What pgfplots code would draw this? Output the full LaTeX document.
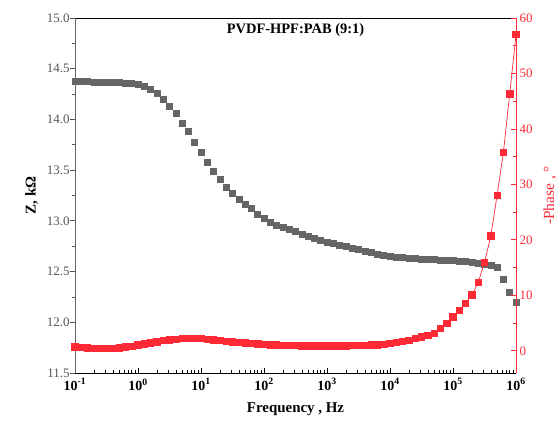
\documentclass[border=0pt]{standalone}
\usepackage{fontspec}
\setmainfont{Liberation Serif}
\usepackage{pgfplots}
\usepackage{pgfplotstable}
\pgfplotsset{compat=1.18}
\definecolor{zgray}{HTML}{666666}
\definecolor{tickgray}{HTML}{555555}
\definecolor{phred}{HTML}{FF2A36}

% f (Hz), Z (kOhm), -phase (deg)
\pgfplotstableread{
f Z P
1.00e-1 14.38 0.70
1.26e-1 14.38 0.60
1.58e-1 14.375 0.50
2.00e-1 14.37 0.45
2.51e-1 14.37 0.40
3.16e-1 14.37 0.40
3.98e-1 14.365 0.45
5.01e-1 14.365 0.55
6.31e-1 14.36 0.70
7.94e-1 14.355 0.85
1.00e0 14.35 1.05
1.26e0 14.33 1.25
1.58e0 14.30 1.45
2.00e0 14.26 1.65
2.51e0 14.20 1.85
3.16e0 14.13 2.00
3.98e0 14.06 2.10
5.01e0 13.96 2.20
6.31e0 13.88 2.25
7.94e0 13.78 2.25
1.00e1 13.68 2.20
1.26e1 13.58 2.10
1.58e1 13.49 2.00
2.00e1 13.41 1.90
2.51e1 13.33 1.75
3.16e1 13.27 1.65
3.98e1 13.21 1.55
5.01e1 13.16 1.45
6.31e1 13.12 1.35
7.94e1 13.07 1.25
1.00e2 13.03 1.20
1.26e2 12.99 1.10
1.58e2 12.96 1.05
2.00e2 12.94 1.00
2.51e2 12.92 0.95
3.16e2 12.90 0.95
3.98e2 12.87 0.90
5.01e2 12.85 0.90
6.31e2 12.83 0.90
7.94e2 12.81 0.90
1.00e3 12.79 0.90
1.26e3 12.78 0.90
1.58e3 12.76 0.90
2.00e3 12.75 0.90
2.51e3 12.73 0.95
3.16e3 12.72 1.00
3.98e3 12.70 1.00
5.01e3 12.69 1.05
6.31e3 12.67 1.10
7.94e3 12.66 1.20
1.00e4 12.65 1.30
1.26e4 12.645 1.50
1.58e4 12.64 1.70
2.00e4 12.635 1.90
2.51e4 12.63 2.20
3.16e4 12.625 2.50
3.98e4 12.62 2.80
5.01e4 12.62 3.20
6.31e4 12.615 4.00
7.94e4 12.61 5.00
1.00e5 12.61 6.10
1.26e5 12.60 7.30
1.58e5 12.60 8.60
2.00e5 12.59 10.1
2.51e5 12.58 12.3
3.16e5 12.57 15.9
3.98e5 12.56 20.7
5.01e5 12.54 28.0
6.31e5 12.42 35.8
7.94e5 12.30 46.3
1.00e6 12.20 57.0
}\eis

\begin{document}
\begin{tikzpicture}
\pgfplotsset{
  every axis/.append style={
    width=441bp, height=355bp, scale only axis,
    xmode=log, xmin=0.1, xmax=1e6,
  },
}
\begin{axis}[
  name=za,
  ymin=11.5, ymax=15.0,
  ytick={11.5,12.0,...,15.0},
  minor y tick num=1,
  xtick={1e-1,1e0,1e1,1e2,1e3,1e4,1e5,1e6},
  xticklabels={10\textsuperscript{-1},10\textsuperscript{0},10\textsuperscript{1},10\textsuperscript{2},10\textsuperscript{3},10\textsuperscript{4},10\textsuperscript{5},10\textsuperscript{6}},
  xtick pos=bottom, ytick pos=left,
  tick align=inside,
  major tick length=5bp, minor tick length=3bp,
  y tick style={xshift=-5bp, tickgray, line width=0.8pt},
  minor y tick style={xshift=2bp},
  x tick style={black, line width=0.8pt},
  separate axis lines,
  x axis line style={black, line width=1pt},
  y axis line style={zgray, line width=1pt},
  yticklabel style={/pgf/number format/fixed, /pgf/number format/fixed zerofill,
    /pgf/number format/precision=1, /pgf/number format/assume math mode=true,
    font=\fontsize{13}{15}\selectfont, text=tickgray, xshift=-2bp},
  xticklabel style={font=\fontsize{14}{16}\selectfont\bfseries, yshift=-2bp},
  xlabel={Frequency , Hz},
  xlabel style={font=\fontsize{15}{18}\selectfont\bfseries, yshift=-6bp},
  ylabel={Z, kΩ},
  ylabel style={font=\fontsize{15}{18}\selectfont\bfseries, yshift=2bp},
]
\addplot[only marks, mark=square*, mark size=3bp, color=zgray] table[x=f, y=Z] {\eis};
\node[font=\fontsize{14.5}{17}\selectfont\bfseries] at (rel axis cs:0.5,0.966) {PVDF-HPF:PAB (9:1)};
\end{axis}
\begin{axis}[
  ymin=-4, ymax=60,
  ytick={0,10,...,60},
  minor y tick num=1,
  axis x line=none,
  axis y line*=right,
  y axis line style={phred, line width=1pt},
  tick align=inside,
  major tick length=5bp, minor tick length=3bp,
  y tick style={phred, line width=0.8pt},
  yticklabel style={font=\fontsize{13}{15}\selectfont, text=phred,
    /pgf/number format/assume math mode=true},
  ylabel={-Phase , \textdegree},
  ylabel style={font=\fontsize{15.5}{18}\selectfont, text=phred, yshift=-4bp},
]
\addplot[phred, line width=0.7pt, mark=square*, mark size=3.2bp] table[x=f, y=P] {\eis};
\end{axis}
\pgfresetboundingbox
\path ([shift={(-75bp,-56bp)}]za.south west) rectangle ([shift={(41bp,18bp)}]za.north east);
\end{tikzpicture}
\end{document}
